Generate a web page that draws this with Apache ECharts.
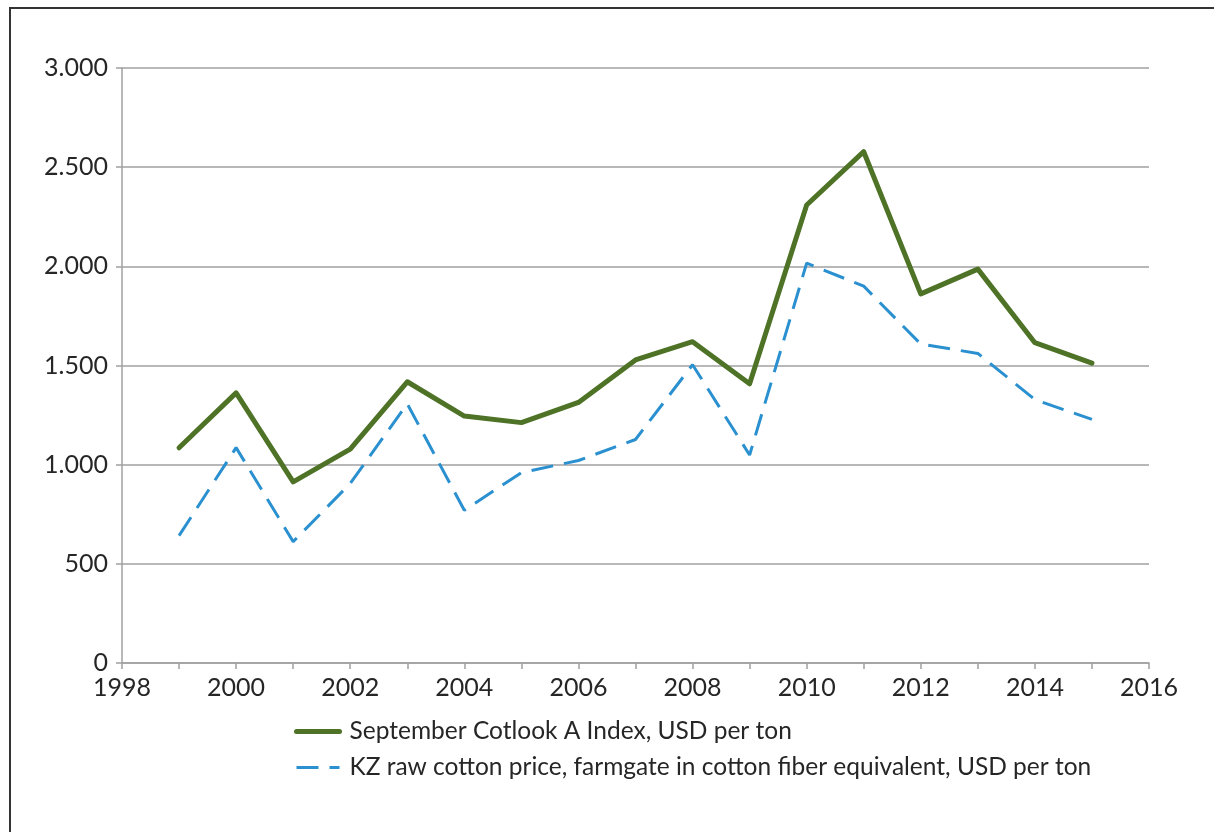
<!DOCTYPE html>
<html>
<head>
<meta charset="utf-8">
<script src="https://cdn.jsdelivr.net/npm/echarts@6/dist/echarts.min.js"></script>
<style>
  html, body { margin: 0; padding: 0; background: #fff; }
  #main { width: 1214px; height: 832px; }
</style>
</head>
<body>
<div id="main"></div>
<script>
// 数据
var years = [1999, 2000, 2001, 2002, 2003, 2004, 2005, 2006, 2007, 2008, 2009, 2010, 2011, 2012, 2013, 2014, 2015];
var cotlook = [1085, 1362, 913, 1078, 1418, 1245, 1212, 1314, 1528, 1620, 1408, 2309, 2578, 1861, 1986, 1615, 1512];
var kzPrice = [642, 1086, 612, 905, 1307, 770, 960, 1021, 1127, 1504, 1049, 2016, 1900, 1608, 1561, 1328, 1228];
var seriesNames = ['September Cotlook A Index, USD per ton', 'KZ raw cotton price, farmgate in cotton fiber equivalent, USD per ton'];

var FONT = 'Lato';
var txt = '#262626';
var gridColor = '#a0a0a0';
var green = '#4e7226';
var blue = '#2a90cf';

var myChart = echarts.init(document.getElementById('main'));

let pairs = (xs, ys) => xs.map((x, i) => [x, ys[i]]);

let option = {
    backgroundColor: '#fff',
    animation: false,
    textStyle: { fontFamily: FONT },
    grid: { left: 122, right: 65, top: 68, bottom: 169, containLabel: false },
    graphic: [{
        type: 'rect',
        shape: { x: 10, y: 8, width: 1400, height: 1000 },
        style: { fill: 'none', stroke: '#333', lineWidth: 2 },
        silent: true
    }],
    legend: {
        orient: 'vertical',
        left: 289,
        top: 714,
        width: 900,
        height: 100,
        itemWidth: 43,
        itemHeight: 14,
        itemGap: 11,
        itemStyle: { opacity: 0 },
        textStyle: { fontFamily: FONT, fontSize: 24.5, color: txt, padding: [0, 0, 0, 5] },
        data: [
            { name: seriesNames[0], lineStyle: { width: 5, color: green, cap: 'round' } },
            { name: seriesNames[1], lineStyle: { width: 3, color: blue, type: [22, 11] } }
        ]
    },
    xAxis: {
        type: 'value',
        min: 1998,
        max: 2016,
        interval: 1,
        axisLine: { show: true, lineStyle: { color: gridColor, width: 1.5 } },
        axisTick: { show: true, length: 6, lineStyle: { color: gridColor, width: 1.5 } },
        splitLine: { show: false },
        axisLabel: {
            fontFamily: FONT, fontSize: 25, color: txt, margin: 12,
            formatter: v => (v % 2 === 0 ? String(v) : '')
        }
    },
    yAxis: {
        type: 'value',
        min: 0,
        max: 3000,
        interval: 500,
        axisLine: { show: true, lineStyle: { color: gridColor, width: 1.5 } },
        axisTick: { show: true, length: 6, lineStyle: { color: gridColor, width: 1.5 } },
        splitLine: { show: true, lineStyle: { color: gridColor, width: 1.5 } },
        axisLabel: {
            fontFamily: FONT, fontSize: 25, color: txt, margin: 14,
            formatter: v => (v >= 1000 ? Math.floor(v / 1000) + '.' + String(v % 1000).padStart(3, '0') : String(v))
        }
    },
    series: [{
        name: seriesNames[0],
        type: 'line',
        data: pairs(years, cotlook),
        symbol: 'none',
        lineStyle: { color: green, width: 5, join: 'round', cap: 'round' },
        itemStyle: { color: green },
        z: 3
    }, {
        name: seriesNames[1],
        type: 'line',
        data: pairs(years, kzPrice),
        symbol: 'none',
        lineStyle: { color: blue, width: 3, type: [22, 11] },
        itemStyle: { color: blue },
        z: 2
    }]
};

myChart.setOption(option);
</script>
</body>
</html>
